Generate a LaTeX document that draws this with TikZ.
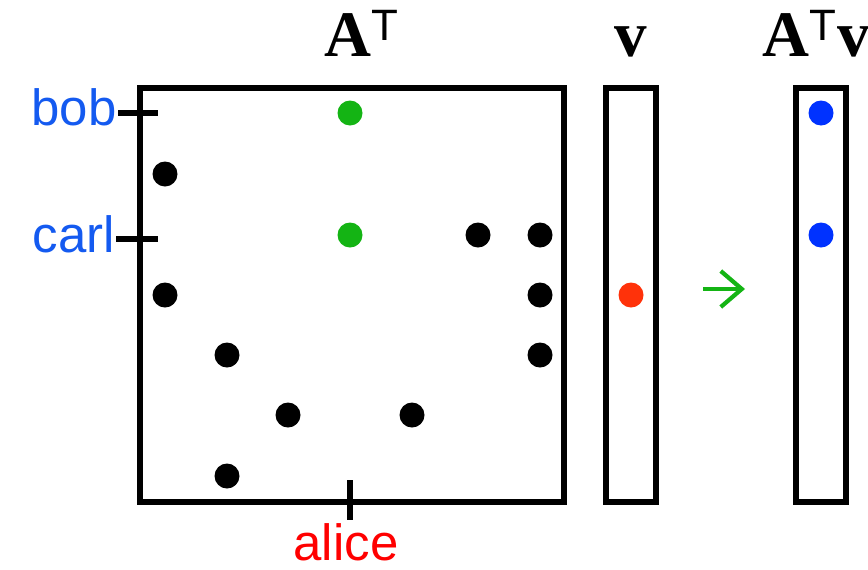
\documentclass[tikz,border=0pt]{standalone}
\usepackage{fontspec}
\setmainfont{Liberation Serif}
\setsansfont{Liberation Sans}
\usetikzlibrary{arrows.meta,positioning}
\definecolor{lblblue}{RGB}{20,90,240}
\definecolor{dotgreen}{RGB}{20,180,20}
\definecolor{dotred}{RGB}{255,50,10}
\definecolor{dotblue}{RGB}{0,50,255}
\definecolor{lblred}{RGB}{255,0,0}

\begin{document}
\begin{tikzpicture}[
  x=0.02cm, y=-0.02cm,
  box/.style={draw, line width=3.2pt},
  tick/.style={line width=3.2pt},
  dot/.style={circle, fill=#1, inner sep=0pt, minimum size=0.5cm},
  dot/.default=black,
  lbl/.style={font=\sffamily\fontsize{29}{29}\selectfont, inner sep=0pt},
  heading/.style={font=\bfseries\fontsize{37}{37}\selectfont, inner sep=0pt, anchor=base}
]
  \useasboundingbox (0,0) rectangle (868,569);

  % matrix and vectors
  \draw[box] (140,88) rectangle (564,502);
  \draw[box] (606,88) rectangle (656,502);
  \draw[box] (796,88) rectangle (846,502);

  % headings
  \node[heading] (hA) at (362,56) {A\textsuperscript{\mdseries\sffamily\fontsize{25}{25}\selectfont T}};
  \node[heading] (hv) at (631,56) {v};
  \node[heading] (hAv) at (816,56) {A\textsuperscript{\mdseries\sffamily\fontsize{25}{25}\selectfont T}v};

  % entries of A^T
  \foreach \x/\y [count=\i] in {165/174, 478/235, 540/235, 165/295, 540/295,
                                227/355, 540/355, 288/415, 412/415, 227/476}
    \node[dot] (a\i) at (\x,\y) {};
  \node[dot=dotgreen] (g1) at (350,113) {};
  \node[dot=dotgreen] (g2) at (350,235) {};
  \node[dot=dotred] (v1) at (631,295) {};
  \node[dot=dotblue] (r1) at (821,113) {};
  \node[dot=dotblue] (r2) at (821,235) {};

  % labels and ticks
  \node[lbl, text=lblblue, anchor=base east] (bob) at (117,125) {bob};
  \node[lbl, text=lblblue, anchor=base east] (carl) at (115,252) {carl};
  \node[lbl, text=lblred, anchor=base] (alice) at (346,560) {alice};
  \coordinate (bobend) at (158,113);
  \coordinate (carlend) at (158,239);
  \coordinate (alicetop) at (350,480);
  \draw[tick] (bob.east |- bobend) ++(1,0) -- (bobend);
  \draw[tick] (carl.east |- carlend) ++(1,0) -- (carlend);
  \draw[tick] (alicetop) -- (alicetop |- 0,520);

  % product arrow
  \coordinate (arrfrom) at (703,289);
  \coordinate (arrto) at (745,289);
  \draw[dotgreen, line width=2.4pt,
        -{Straight Barb[length=0.42cm, width=0.72cm, line width=2.4pt]}]
    (arrfrom) -- (arrto);
\end{tikzpicture}
\end{document}
